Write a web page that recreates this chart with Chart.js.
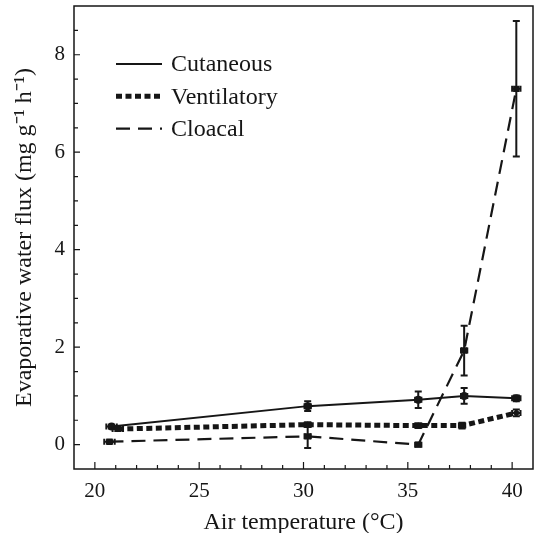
<!DOCTYPE html>
<html>
<head>
<meta charset="utf-8">
<script src="https://cdn.jsdelivr.net/npm/chart.js@4"></script>
<style>
  html, body { margin: 0; padding: 0; background: #fff; }
  canvas { display: block; }
</style>
</head>
<body>
<canvas id="fluxChart" width="535" height="533"></canvas>
<script>
// air temperature (°C) and flux (mg g-1 h-1), mean and s.e.m.
var cutTemp = [20.8, 30.2, 35.5, 37.7, 40.2];
var cutFlux = [0.37, 0.79, 0.92, 1.00, 0.95];
var cutErr  = [0.04, 0.10, 0.17, 0.16, 0.06];

var ventTemp = [21.1, 30.2, 35.5, 37.6, 40.2];
var ventFlux = [0.32, 0.41, 0.39, 0.39, 0.65];
var ventErr  = [0.04, 0.05, 0.05, 0.06, 0.07];

var cloTemp = [20.7, 30.2, 35.5, 37.7, 40.2];
var cloFlux = [0.06, 0.17, 0.00, 1.93, 7.30];
var cloErr  = [0.03, 0.24, 0.04, 0.51, 1.39];

var tempErr = [0.25, 0.15, 0.15, 0.15, 0.2];

var xTicks = [20, 25, 30, 35, 40];
var yTicks = [0, 2, 4, 6, 8];

var ink = '#161616';
var serif = "'Liberation Serif', 'Times New Roman', serif";

function pts(xs, ys) {
    return xs.map(function (x, i) { return { x: x, y: ys[i] }; });
}

// no extra room for overhanging tick labels
function noPad(s) {
    s.paddingLeft = 0; s.paddingRight = 0;
    s.paddingTop = 0; s.paddingBottom = 0;
}

// frame, inward ticks, error bars and the legend inside the plot
var extras = {
    id: 'extras',
    afterDatasetsDraw: function (chart) {
        var ctx = chart.ctx;
        var a = chart.chartArea;
        var xs = chart.scales.x, ys = chart.scales.y;
        ctx.save();
        ctx.strokeStyle = ink;
        ctx.fillStyle = ink;

        // error bars
        ctx.lineWidth = 2;
        ctx.setLineDash([]);
        chart.data.datasets.forEach(function (ds) {
            ds.data.forEach(function (p, i) {
                var px = xs.getPixelForValue(p.x);
                var top = ys.getPixelForValue(p.y + ds.errY[i]);
                var bot = ys.getPixelForValue(p.y - ds.errY[i]);
                ctx.beginPath();
                ctx.moveTo(px, top); ctx.lineTo(px, bot);
                ctx.moveTo(px - 3.5, top); ctx.lineTo(px + 3.5, top);
                ctx.moveTo(px - 3.5, bot); ctx.lineTo(px + 3.5, bot);
                var py = ys.getPixelForValue(p.y);
                var l = xs.getPixelForValue(p.x - tempErr[i]);
                var r = xs.getPixelForValue(p.x + tempErr[i]);
                ctx.moveTo(l, py); ctx.lineTo(r, py);
                ctx.moveTo(l, py - 3); ctx.lineTo(l, py + 3);
                ctx.moveTo(r, py - 3); ctx.lineTo(r, py + 3);
                ctx.stroke();
            });
        });

        // frame
        ctx.lineWidth = 1.5;
        ctx.strokeRect(a.left, a.top, a.right - a.left, a.bottom - a.top);

        // inward ticks
        ctx.lineWidth = 1.2;
        ctx.beginPath();
        for (var t = 20; t <= 40; t++) {
            var x = xs.getPixelForValue(t);
            var len = (t % 5 === 0) ? 7 : 4;
            ctx.moveTo(x, a.bottom); ctx.lineTo(x, a.bottom - len);
        }
        for (var v = 0; v <= 8.5; v += 0.5) {
            var y = ys.getPixelForValue(v);
            var ln = (v % 2 === 0) ? 6 : 4;
            ctx.moveTo(a.left, y); ctx.lineTo(a.left + ln, y);
        }
        ctx.stroke();

        // legend
        ctx.font = '24px ' + serif;
        ctx.textBaseline = 'middle';
        chart.data.datasets.forEach(function (ds, i) {
            var ly = a.top + 58 + i * 32.3;
            ctx.lineWidth = ds.borderWidth;
            ctx.setLineDash(ds.borderDash || []);
            ctx.beginPath();
            ctx.moveTo(116, ly); ctx.lineTo(162, ly);
            ctx.stroke();
            ctx.setLineDash([]);
            ctx.fillText(ds.label, 171, ly + 1);
        });
        ctx.restore();
    }
};

var ctx = document.getElementById('fluxChart');

new Chart(ctx, {
    type: 'line',
    data: {
        datasets: [{
            label: 'Cutaneous',
            data: pts(cutTemp, cutFlux),
            errY: cutErr,
            borderColor: ink,
            backgroundColor: ink,
            borderWidth: 2,
            pointRadius: 3,
            pointStyle: 'circle'
        }, {
            label: 'Ventilatory',
            data: pts(ventTemp, ventFlux),
            errY: ventErr,
            borderColor: ink,
            backgroundColor: ink,
            borderWidth: 5,
            borderDash: [6, 3.5],
            pointRadius: 2.5,
            pointBorderWidth: 1,
            pointStyle: 'circle'
        }, {
            label: 'Cloacal',
            data: pts(cloTemp, cloFlux),
            errY: cloErr,
            borderColor: ink,
            backgroundColor: ink,
            borderWidth: 2.2,
            borderDash: [14, 8],
            pointRadius: 3,
            pointStyle: 'rect'
        }]
    },
    options: {
        responsive: false,
        animation: false,
        layout: { autoPadding: false, padding: { top: 6, right: 2, left: 0, bottom: 0 } },
        plugins: {
            legend: { display: false },
            tooltip: { enabled: false }
        },
        scales: {
            x: {
                type: 'linear',
                min: 19,
                max: 41,
                afterBuildTicks: function (s) { s.ticks = xTicks.map(function (v) { return { value: v }; }); },
                afterFit: function (s) { s.height = 64; noPad(s); },
                grid: { display: false, drawTicks: false },
                border: { display: false },
                ticks: { color: ink, padding: 10, maxRotation: 0, font: { family: serif, size: 21 } },
                title: {
                    display: true,
                    text: 'Air temperature (°C)',
                    color: ink,
                    font: { family: serif, size: 24, lineHeight: 1 },
                    padding: { top: 0, bottom: -2 }
                }
            },
            y: {
                min: -0.5,
                max: 9,
                afterBuildTicks: function (s) { s.ticks = yTicks.map(function (v) { return { value: v }; }); },
                afterFit: function (s) { s.width = 74; noPad(s); },
                grid: { display: false, drawTicks: false },
                border: { display: false },
                ticks: { color: ink, padding: 9, font: { family: serif, size: 21 } },
                title: {
                    display: true,
                    text: 'Evaporative water flux (mg g⁻¹ h⁻¹)',
                    color: ink,
                    font: { family: serif, size: 24, lineHeight: 1 },
                    padding: { top: 13, bottom: 0 }
                }
            }
        }
    },
    plugins: [extras]
});
</script>
</body>
</html>
